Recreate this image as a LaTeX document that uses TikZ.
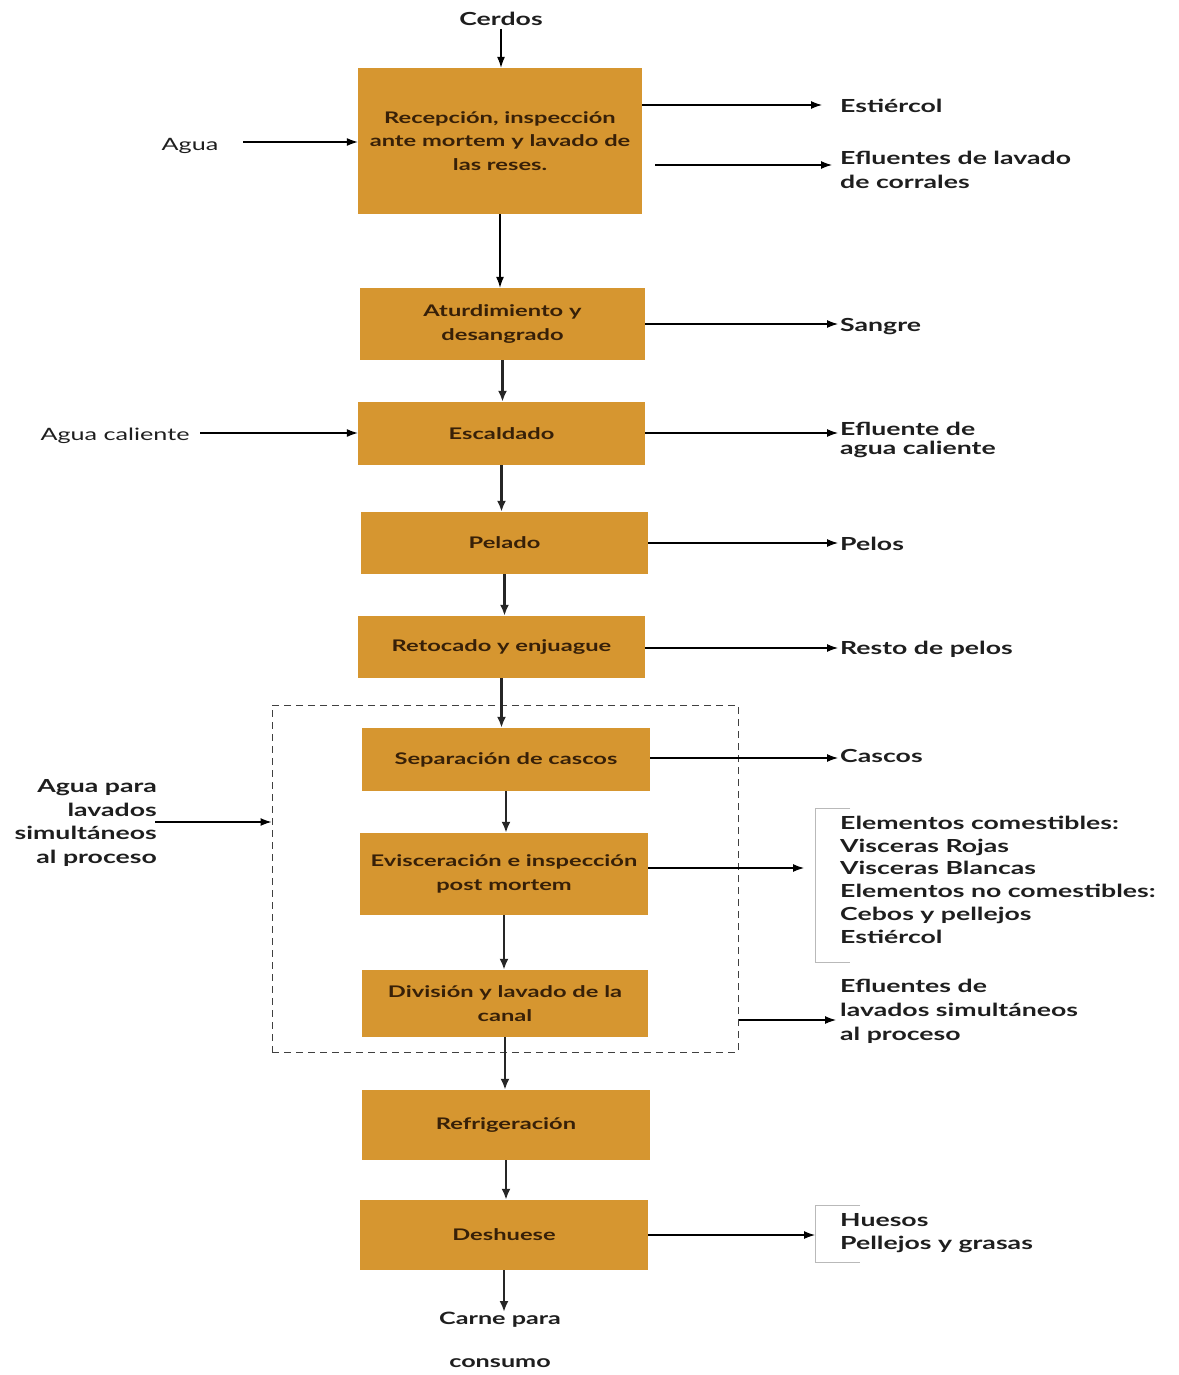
\documentclass[tikz,border=0pt]{standalone}
\usepackage{fontspec}
\setmainfont{Lato}[FakeStretch=1.48]
\usetikzlibrary{arrows.meta}
\definecolor{boxfill}{RGB}{214,150,48}
\definecolor{boxtext}{RGB}{55,32,8}
\definecolor{lbl}{RGB}{30,30,30}
\tikzset{
  box/.style={fill=boxfill, draw=none, text=boxtext, align=center, inner sep=0pt,
    font=\fontsize{16}{23.5}\selectfont\bfseries},
  lab/.style={text=lbl, align=left, inner sep=0pt,
    font=\fontsize{18}{23.5}\selectfont\bfseries},
  arr/.style={-{Latex[length=11pt,width=8pt]}, line width=1.1pt, black},
  varr/.style={-{Latex[length=11pt,width=9pt]}, line width=2.6pt, black!85},
  brk/.style={draw=gray!55, line width=0.8pt},
}
\begin{document}
\begin{tikzpicture}[x=1pt,y=-1pt]
\useasboundingbox (0,0) rectangle (1178,1375);
% dashed group
\node[draw=black!75, dashed, dash pattern=on 7pt off 5pt, line width=1pt, minimum width=466pt, minimum height=347pt, inner sep=0pt] (dbox) at (505,878.5) {};
% boxes
\node[box, minimum width=284pt, minimum height=146pt] (b1) at (500,141) {Recepción, inspección\\ante mortem y lavado de\\las reses.};
\node[box, minimum width=285pt, minimum height=72pt] (b2) at (502.5,324) {Aturdimiento y\\desangrado};
\node[box, minimum width=287pt, minimum height=63pt] (b3) at (501.5,433.5) {Escaldado};
\node[box, minimum width=287pt, minimum height=62pt] (b4) at (504.5,543) {Pelado};
\node[box, minimum width=287pt, minimum height=62pt] (b5) at (501.5,647) {Retocado y enjuague};
\node[box, minimum width=288pt, minimum height=63pt] (b6) at (506,759.5) {Separación de cascos};
\node[box, minimum width=288pt, minimum height=82pt] (b7) at (504,874) {Evisceración e inspección\\post mortem};
\node[box, minimum width=286pt, minimum height=67pt] (b8) at (505,1003.5) {División y lavado de la\\canal};
\node[box, minimum width=288pt, minimum height=70pt] (b9) at (506,1125) {Refrigeración};
\node[box, minimum width=288pt, minimum height=70pt] (b10) at (504,1235) {Deshuese};
% top / bottom labels
\node[lab] (cerdos) at (501,19) {Cerdos};
\node[lab, align=center, font=\fontsize{17}{43}\selectfont\bfseries, anchor=north] (carne) at (500,1312) {Carne para\\consumo};
% left labels
\node[lab, font=\fontsize{17}{23}\selectfont] (agua) at (190,146) {Agua};
\node[lab, font=\fontsize{17}{23}\selectfont] (aguac) at (115,436) {Agua caliente};
\node[lab, align=right, anchor=east] (aguap) at (157,823) {Agua para\\lavados\\simultáneos\\al proceso};
% right labels
\node[lab, anchor=west] (estiercol) at (840,106) {Estiércol};
\node[lab, anchor=north west] (efl1) at (840,151) {Efluentes de lavado\\de corrales};
\node[lab, anchor=west] (sangre) at (840,327) {Sangre};
\node[lab, anchor=north west, font=\fontsize{18}{19}\selectfont\bfseries] (efl2) at (840,422) {Efluente de\\agua caliente};
\node[lab, anchor=west] (pelos) at (840,544) {Pelos};
\node[lab, anchor=west] (resto) at (840,649) {Resto de pelos};
\node[lab, anchor=west] (cascos) at (840,756) {Cascos};
\node[lab, anchor=north west, font=\fontsize{18}{22.7}\selectfont\bfseries] (visc) at (840,816) {Elementos comestibles:\\Visceras Rojas\\Visceras Blancas\\Elementos no comestibles:\\Cebos y pellejos\\Estiércol};
\node[lab, anchor=north west, font=\fontsize{18}{24}\selectfont\bfseries] (efl3) at (840,979) {Efluentes de\\lavados simultáneos\\al proceso};
\node[lab, anchor=north west] (huesos) at (840,1213) {Huesos\\Pellejos y grasas};
% brackets
\draw[brk] (850,808) -- (815,808) -- (815,962) -- (850,962);
\draw[brk] (860,1205) -- (815,1205) -- (815,1262) -- (860,1262);
\coordinate (vtip) at (804,868);
\coordinate (htip) at (815,1235);
% vertical flow
\draw[arr] (cerdos.south) ++(0,3) -- (cerdos.south |- b1.north);
\draw[arr] (b1.south) -- (b1.south |- b2.north);
\draw[varr] (b2.south) -- (b2.south |- b3.north);
\draw[varr] (b3.south) -- (b3.south |- b4.north);
\draw[varr] (b4.south) -- (b4.south |- b5.north);
\draw[varr] (b5.south) -- (b5.south |- b6.north);
\draw[varr] (b6.south) -- (b6.south |- b7.north);
\draw[varr] (b7.south) -- (b7.south |- b8.north);
\draw[varr] (b8.south) -- (b8.south |- b9.north);
\draw[varr] (b9.south) -- (b9.south |- b10.north);
\draw[varr] (b10.south) -- (b10.south |- carne.north);
% inputs
\draw[arr] (243,142) -- (b1.west |- 0,142);
\draw[arr] (200,433) -- (b3.west |- 0,433);
\draw[arr] (155,822) -- (dbox.west |- 0,822);
% outputs
\draw[arr] (b1.east |- 0,105) -- (822,105);
\draw[arr] (655,165) -- (832,165);
\draw[arr] (b2.east |- 0,324) -- (838,324);
\draw[arr] (b3.east |- 0,433) -- (838,433);
\draw[arr] (b4.east |- 0,543) -- (838,543);
\draw[arr] (b5.east |- 0,648) -- (838,648);
\draw[arr] (b6.east |- 0,758) -- (838,758);
\draw[arr] (b7.east |- 0,868) -- (vtip);
\draw[arr] (dbox.east |- 0,1020) -- (836,1020);
\draw[arr] (b10.east |- 0,1235) -- (htip);
\end{tikzpicture}
\end{document}
